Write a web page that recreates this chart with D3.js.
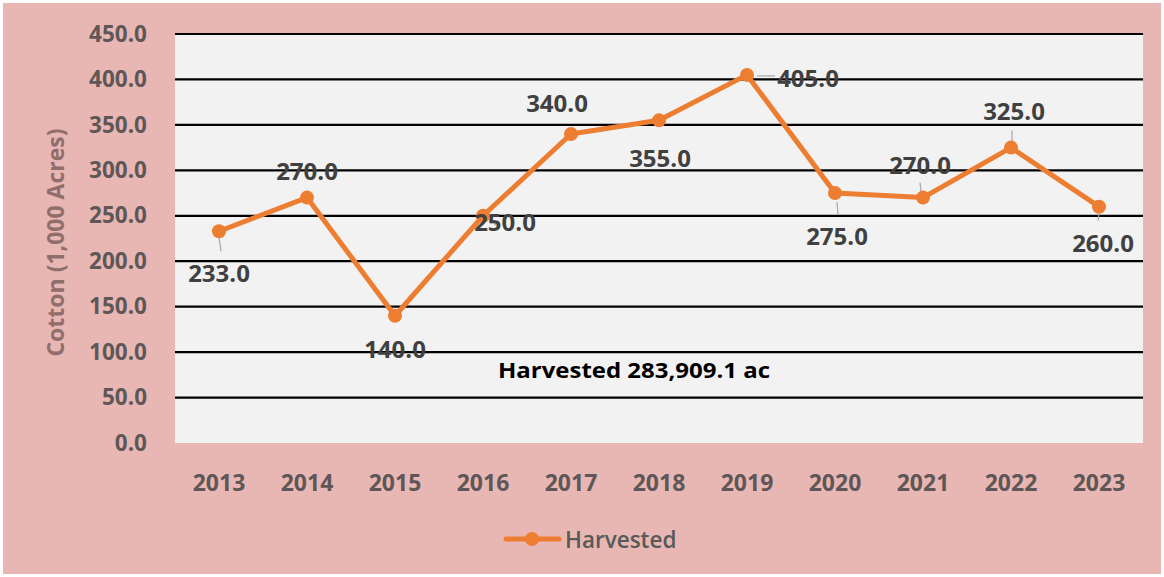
<!DOCTYPE html>
<html><head><meta charset="utf-8">
<script src="https://cdn.jsdelivr.net/npm/d3@7"></script>
<style>html,body{margin:0;padding:0;background:#fff}svg{display:block}</style>
</head><body>
<svg id="c" width="1164" height="577"></svg>
<script>
const years = ["2013","2014","2015","2016","2017","2018","2019","2020","2021","2022","2023"];
const harvested = [233,270,140,250,340,355,405,275,270,325,260];
const yTicks = [0,50,100,150,200,250,300,350,400,450];
// label offsets (dx, dy) relative to point, in px
const labelPos = [[0,41],[0,-27],[0,33],[22,6],[-14,-31],[1,37],[61,3],[2,42],[-3,-33],[3,-37],[4,36]];
const leaders = [[[0,6],[2,20]],null,null,[[6,4],[14,10]],null,null,[[10,1],[28,1]],[[2,9],[3,21]],[[-2,-6],[-3,-15]],[[1,-6],[1,-17]],[[0,7],[-1,14]]];

const svg = d3.select("#c");
svg.append("rect").attr("x",3).attr("y",3).attr("width",1158).attr("height",571).attr("fill","#e8b7b4");

const m = {l:175, r:1143, t:34, b:443};
const x = d3.scaleBand().domain(years).range([m.l,m.r]);
const y = d3.scaleLinear().domain([0,450]).range([m.b,m.t]);
const FONT = "Open Sans";

svg.append("rect").attr("x",m.l).attr("y",m.t).attr("width",m.r-m.l).attr("height",m.b-m.t).attr("fill","#f2f2f2");

const yAxis = d3.axisLeft(y).tickValues(yTicks).tickSize(0).tickPadding(28).tickFormat(d=>d.toFixed(1));
const gy = svg.append("g").attr("transform",`translate(${m.l},0)`).call(yAxis);
gy.select(".domain").remove();
gy.selectAll("text").attr("font-family",FONT).attr("font-weight","bold").attr("font-size","22.5px").attr("fill","#5f5757");
svg.append("g").selectAll("line").data(yTicks.filter(d=>d>0)).join("line")
  .attr("x1",m.l).attr("x2",m.r).attr("y1",d=>y(d)).attr("y2",d=>y(d))
  .attr("stroke","#000").attr("stroke-width",2.2);

const xAxis = d3.axisBottom(x).tickSize(0).tickPadding(32);
const gx = svg.append("g").attr("transform",`translate(0,${m.b})`).call(xAxis);
gx.select(".domain").remove();
gx.selectAll("text").attr("font-family",FONT).attr("font-weight","bold").attr("font-size","23px").attr("fill","#5f5757");

svg.append("text").attr("transform",`translate(64,${(m.t+m.b)/2+4}) rotate(-90)`)
  .attr("text-anchor","middle").attr("font-family",FONT).attr("font-weight","bold")
  .attr("font-size","23px").attr("fill","#8f6e6b").text("Cotton (1,000 Acres)");

const cx = i => x(years[i]) + x.bandwidth()/2;
const line = d3.line().x((d,i)=>cx(i)).y(d=>y(d));
svg.append("path").datum(harvested).attr("d",line).attr("fill","none")
  .attr("stroke","#ed7d31").attr("stroke-width",5).attr("stroke-linejoin","round");

harvested.forEach((v,i)=>{
  const L = leaders[i]; if(!L) return;
  svg.append("line").attr("x1",cx(i)+L[0][0]).attr("y1",y(v)+L[0][1]).attr("x2",cx(i)+L[1][0]).attr("y2",y(v)+L[1][1])
    .attr("stroke","#a6a6a6").attr("stroke-width",1.2);
});

svg.append("g").selectAll("circle").data(harvested).join("circle")
  .attr("cx",(d,i)=>cx(i)).attr("cy",d=>y(d)).attr("r",7).attr("fill","#ed7d31");

svg.append("g").selectAll("text").data(harvested).join("text")
  .attr("x",(d,i)=>cx(i)+labelPos[i][0]).attr("y",(d,i)=>y(d)+labelPos[i][1])
  .attr("text-anchor","middle").attr("dominant-baseline","central")
  .attr("font-family",FONT).attr("font-weight","bold").attr("font-size","24px").attr("fill","#404040")
  .text(d=>d.toFixed(1));

svg.append("text").attr("x",634).attr("y",369).attr("text-anchor","middle").attr("dominant-baseline","central")
  .attr("font-family",FONT).attr("font-weight","bold").attr("font-size","22px").attr("fill","#000")
  .attr("textLength",272).attr("lengthAdjust","spacingAndGlyphs")
  .text("Harvested 283,909.1 ac");

svg.append("line").attr("x1",506).attr("x2",559).attr("y1",539).attr("y2",539).attr("stroke","#ed7d31").attr("stroke-width",5).attr("stroke-linecap","round");
svg.append("circle").attr("cx",532).attr("cy",539).attr("r",7).attr("fill","#ed7d31");
svg.append("text").attr("x",565).attr("y",539).attr("dominant-baseline","central")
  .attr("font-family",FONT).attr("font-weight","600").attr("font-size","22.5px").attr("fill","#595959").text("Harvested");
</script>
</body></html>
